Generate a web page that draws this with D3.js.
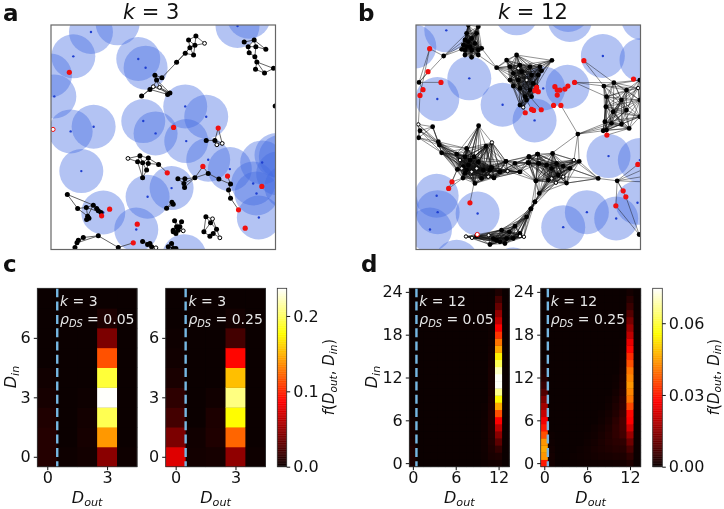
<!DOCTYPE html>
<html><head><meta charset="utf-8">
<script src="https://cdn.jsdelivr.net/npm/d3@7/dist/d3.min.js"></script>
<style>
html,body{margin:0;padding:0;background:#fff}
svg{display:block;filter:blur(.35px)}
text{font-family:"DejaVu Sans",sans-serif;fill:#111}
</style></head><body>
<svg id="fig" width="724" height="509"></svg>
<script>
// ---------- panel a: k = 3 (picture units) ----------
const aDomainX=[153,827], aDomainY=[75,748];
const aDisks=[[273,96],[353,70],[220,169],[415,177],[437,203],[150,226],[163,289],[430,363],[467,400],[556,319],[619,350],[559,423],[212,394],[281,380],[625,479],[690,507],[244,513],[443,590],[515,564],[310,637],[409,688],[553,768],[777,652],[713,78],[747,50],[787,487],[760,550],[770,580],[843,470],[835,520],[860,560],[830,465]];
const aRed=[[208,217],[521,382],[655,384],[502,518],[609,499],[683,528],[786,559],[329,627],[305,647],[412,672],[736,684],[716,629],[400,728]];
const aOpenRed=[[159,388]];
const aCluster1=[[566,120],[588,108],[614,130,1],[570,143],[585,136],[581,165],[556,160],[530,187],[486,233],[465,226],[470,240],[460,260,1],[479,262,1],[450,268],[425,288],[510,279],[503,283]];
const aLinks1=[[0,1],[1,2],[0,4],[1,4],[2,4],[0,3],[3,4],[3,5],[4,5],[3,6],[5,6],[6,7],[3,7],[7,8],[8,9],[8,10],[9,10],[10,11],[10,12],[11,12],[11,13],[13,14],[12,15],[12,16],[11,15],[13,16],[14,11],[10,15]];
const aCluster2=[[733,126],[763,120],[798,148],[745,140],[768,140],[748,158],[765,170],[771,186],[767,208],[794,219],[821,205],[838,200]];
const aLinks2=[[0,1],[1,3],[1,4],[3,4],[4,2],[1,2],[3,5],[4,6],[5,6],[6,7],[7,8],[7,9],[8,9],[7,10],[9,10],[10,11]];
const aCluster3=[[619,421],[645,421],[651,434,1],[667,430,1],[655,384]];
const aLinks3=[[0,1],[1,2],[1,3],[2,3],[4,1],[4,3]];
const aCluster4=[[384,475,1],[420,467],[445,474],[413,485],[428,488],[445,490],[476,493],[428,533],[440,510],[502,518]];
const aLinks4=[[0,1],[0,3],[1,3],[1,2],[2,4],[1,4],[3,4],[2,5],[4,5],[5,6],[2,6],[3,7],[4,7],[4,8],[5,8],[7,8],[6,9]];
const aCluster5=[[534,536],[555,536],[552,550],[554,562],[585,533],[625,520],[657,537],[692,552],[686,570],[692,594],[609,499],[683,528],[716,629]];
const aLinks5=[[0,1],[0,2],[1,2],[2,3],[1,3],[1,4],[2,4],[3,4],[4,5],[5,6],[6,7],[7,8],[8,9],[10,4],[10,5],[11,7],[12,9]];
const aCluster6=[[516,606],[520,612],[500,624]];
const aLinks6=[[0,2],[1,2],[0,1]];
const aCluster7=[[202,583],[233,625],[259,622],[280,615],[290,625],[295,632],[303,637],[263,648],[267,654],[260,658]];
const aLinks7=[[0,1],[0,3],[1,2],[1,7],[2,7],[3,4],[4,5],[5,6],[2,3],[7,8],[8,9],[3,7],[2,6]];
const aCluster8=[[295,707],[250,712],[235,720],[231,728],[225,742],[355,742],[428,724],[443,733],[450,730],[455,740],[468,743,1],[400,728]];
const aLinks8=[[0,1],[1,2],[2,3],[3,4],[0,3],[1,3],[0,5],[5,11],[6,7],[6,8],[7,9],[8,10],[9,10]];
const aCluster9=[[524,662],[545,665],[530,680],[540,680],[550,692,1],[520,695],[535,690],[528,700],[520,690]];
const aLinks9=[[0,2],[1,3],[2,3],[3,4],[2,5],[2,6],[3,6],[6,7],[5,7],[6,8],[0,3],[1,2],[6,4]];
const aCluster10=[[618,650],[638,656,1],[632,668],[650,687],[612,695],[640,700],[630,708],[660,713,1]];
const aLinks10=[[0,1],[0,2],[1,2],[0,4],[2,4],[2,3],[4,6],[3,5],[5,6],[3,7],[5,7],[1,3]];
const aCluster11=[[515,730],[505,740],[520,745],[528,745],[826,318]];
const aLinks11=[[0,1],[0,2],[0,3],[1,2]];
const aNetworks=[[aCluster1,aLinks1],[aCluster2,aLinks2],[aCluster3,aLinks3],[aCluster4,aLinks4],[aCluster5,aLinks5],[aCluster6,aLinks6],[aCluster7,aLinks7],[aCluster8,aLinks8],[aCluster9,aLinks9],[aCluster10,aLinks10],[aCluster11,aLinks11]];

// ---------- panel b: k = 12 (picture units) ----------
const bDomainX=[198,872], bDomainY=[75,748];
const bDisks=[[289,91],[500,40],[660,60],[655,30],[759,168],[875,180],[358,235],[262,297],[580,265],[653,260],[458,314],[554,361],[776,468],[870,480],[260,587],[263,636],[383,640],[240,688],[640,681],[711,636],[799,655],[863,608],[320,785],[193,140],[880,55],[490,808],[140,620]];
const bRed=[[239,146],[234,215],[273,247],[219,269],[210,286],[306,545],[296,565],[360,608],[526,338],[545,328],[551,331],[574,329],[611,316],[633,316],[555,272],[560,262],[565,275],[615,260],[622,270],[630,270],[622,285],[645,267],[654,258],[674,247],[702,182],[851,237],[771,405],[864,493],[820,572],[828,590],[798,617]];
const bOpenRed=[[382,703]];
const bGroup1=[[350,100],[380,100],[345,120],[365,115],[340,135],[355,125],[375,130],[395,145],[385,150],[345,150],[365,150],[335,148],[345,165],[365,172],[385,165],[355,75],[385,80],[360,140],[350,140]];
const bGroup2=[[500,165],[470,180],[440,203],[606,181],[480,200],[510,195],[540,200],[570,200],[575,212],[490,220],[515,215],[545,225],[480,240],[505,240],[530,240,1],[550,250],[490,258],[510,265],[540,270],[560,258,1],[525,290],[545,290],[530,300],[520,322,1],[510,315],[505,205,1],[565,225]];
const bGroup3=[[762,258],[792,248],[865,264,1],[770,290],[768,320],[790,335],[830,330],[870,300],[815,300],[765,365],[785,370],[815,372],[838,385],[760,392],[770,390],[870,350],[830,270],[870,240]];
const bGroup4=[[205,373,1],[248,380],[210,392],[206,413],[265,425],[268,435],[275,458],[386,377],[426,427,1],[408,438],[320,462],[350,445],[330,480,1],[345,470],[360,480],[372,470],[355,495],[340,500],[380,505,1],[365,515,1],[345,520],[322,508],[339,534],[375,550],[395,535],[415,530,1],[432,533],[425,503],[450,515],[473,513,1],[468,484],[510,515],[420,510],[400,510],[385,485],[350,510],[335,505,1]];
const bGroup5=[[537,470],[563,462],[608,460],[566,490],[535,488],[590,495],[620,490],[640,498],[605,505],[672,480,1],[688,484],[660,505],[625,525],[640,530,1],[605,535,1],[618,548,1],[650,549],[558,542],[595,540],[568,580],[555,605],[543,626],[745,535]];
const bGroup6=[[543,626],[555,605],[495,678],[510,700],[522,710,1],[510,708,1],[490,715],[470,715],[450,725],[440,720],[420,733],[416,705,1],[380,707],[348,709,1],[366,713,1],[430,715],[465,730],[455,690],[478,695],[530,650]];
const bGroup7=[[425,503],[432,533],[450,515],[473,513,1],[468,484],[495,490],[510,515],[537,470],[535,488],[563,462],[566,490],[558,542]];
const bSingles=[[281,168],[207,247],[684,402],[802,542],[868,703]];
const bGroups=[[bGroup1,90],[bGroup2,90],[bGroup3,110],[bGroup4,108],[bGroup5,110],[bGroup6,130],[bGroup7,100]];
const bBridges=[[239,146,207,247],[239,146,281,168],[239,146,210,286],[281,168,207,247],[281,168,345,120],[281,168,340,135],[281,168,350,100],[281,168,335,148],[207,247,273,247],[207,247,234,215],[219,269,207,247],[210,286,205,373],[395,145,440,203],[385,165,440,203],[606,181,570,200],[606,181,540,200],[606,181,565,225],[606,181,500,165],[606,181,480,200],[526,338,520,322],[545,328,530,300],[574,329,540,290],[555,272,530,240],[633,316,684,402],[702,182,762,258],[702,182,792,248],[674,247,762,258],[674,247,792,248],[674,247,770,290],[684,402,605,460],[684,402,672,480],[684,402,688,484],[684,402,765,370],[684,402,760,392],[684,402,785,370],[684,402,815,372],[771,405,765,365],[771,405,838,385],[864,493,802,542],[875,510,802,542],[875,530,802,542],[875,545,802,542],[820,572,802,542],[828,590,802,542],[798,617,802,542],[798,617,868,703],[828,590,868,703],[745,535,802,542],[360,608,372,550],[306,545,339,534],[296,565,322,508],[306,545,322,508],[296,565,339,534],[386,377,330,480],[386,377,345,470],[386,377,355,495],[386,377,372,470],[386,377,385,485],[386,377,400,510],[386,377,360,480],[426,427,385,485],[426,427,400,510],[426,427,420,510],[426,427,450,515],[426,427,468,484],[408,438,425,503],[408,438,380,505],[660,505,745,535],[650,549,745,535]];

// ---------- heat maps: value f(Dout,Din), columns of Dout, listed from Din = 0 upward ----------
const cRowCount=9, cColCount=5;
const cLeftColumns={0:[.009,.009,.007,.004,.002],1:[.001],2:[.003,.004,.003,.001],3:[.045,.14,.196,.236,.19,.115,.04,.006,0],4:[.001]};
const cRightColumns={0:[.075,.04,.02,.012,.005,.002,.001],1:[.003,.002],2:[.004,.007,.006,.002],3:[.047,.122,.176,.207,.154,.088,.02,.003,0],4:[.001]};
const dRowCount=25, dColCount=14;
const dLeftColumns={0:[.002,.002,.002,.0015,.001,.001,.0007],
 10:[.0003,.0005,.0006,.0006,.0006,.0005,.0004,.0003,.0002],
 11:[.0008,.0016,.002,.0024,.0026,.0026,.0025,.0024,.002,.0018,.0016,.0015,.0015,.0014,.0012,.001,.0008,.0006,.0005,.0004,.0003],
 12:[.001,.002,.0045,.009,.014,.02,.027,.036,.046,.055,.066,.074,.074,.07,.062,.054,.046,.04,.033,.027,.02,.015,.01,.006,.002]};
const dRightColumns={0:[.03,.044,.046,.044,.036,.03,.026,.021,.017,.013,.008,.005,.003,.002,.001],
 1:[.001,.001,.0008,.0005,.0003],
 4:[.0002,.0002],5:[.0003,.0004,.0003],6:[.0004,.0007,.0007,.0005,.0002],7:[.0005,.001,.0013,.001,.0007,.0004],
 8:[.0006,.0013,.0018,.0018,.0014,.001,.0006,.0003],9:[.0006,.0015,.0022,.0027,.0025,.002,.0015,.001,.0006,.0003],
 10:[.0008,.0018,.0028,.0035,.004,.004,.0035,.0025,.002,.0014,.0009,.0005,.0003],
 11:[.001,.002,.003,.004,.006,.0065,.0065,.0055,.0045,.004,.003,.0025,.002,.0015,.001,.0007,.0005,.0003],
 12:[.002,.004,.007,.011,.016,.022,.027,.028,.035,.04,.042,.044,.042,.04,.036,.032,.028,.025,.02,.016,.012,.008,.005,.003,.001]};
const cTicksX=[0,3], cTicksY=[0,3,6];
const dTicksX=[0,6,12], dTicksY=[0,6,12,18,24];
const cScaleMax=.2367, dScaleMax=.0746;
const cBarTicks=[0,.1,.2], dBarTicks=[0,.03,.06];

// ---------- drawing ----------
const svg=d3.select("#fig");
const DISK="#4169e1", DOT="#1f3fd0", RED="#f01010";
// matplotlib "hot" colour map
const hotT=[0,.365,.746,1];
const hot=d3.scaleLinear().domain(hotT).range(["#0b0000","#ff0000","#ffff00","#ffffff"]);

function panel(id,left,top,size,dx,dy){
  const g=svg.append("g");
  g.append("clipPath").attr("id",id).append("rect").attr("x",left).attr("y",top).attr("width",size).attr("height",size);
  const body=g.append("g").attr("clip-path",`url(#${id})`);
  const x=d3.scaleLinear().domain(dx).range([left,left+size]);
  const y=d3.scaleLinear().domain(dy).range([top,top+size]);
  return {g,body,x,y,left,top,size};
}
function drawDisks(p,disks){
  p.body.selectAll("circle.d").data(disks).join("circle").attr("class","d")
   .attr("cx",d=>p.x(d[0])).attr("cy",d=>p.y(d[1])).attr("r",22).attr("fill",DISK).attr("fill-opacity",.4);
  p.body.selectAll("circle.c").data(disks).join("circle").attr("class","c")
   .attr("cx",d=>p.x(d[0])).attr("cy",d=>p.y(d[1])).attr("r",1.2).attr("fill",DOT);
}
function drawEdges(p,edges,color,width,op){
  p.body.append("g").selectAll("line").data(edges).join("line")
   .attr("x1",d=>p.x(d[0])).attr("y1",d=>p.y(d[1])).attr("x2",d=>p.x(d[2])).attr("y2",d=>p.y(d[3]))
   .attr("stroke",color).attr("stroke-width",width).attr("stroke-opacity",op);
}
function drawNodes(p,nodes,rb,rw){
  p.body.append("g").selectAll("circle").data(nodes).join("circle")
   .attr("cx",d=>p.x(d[0])).attr("cy",d=>p.y(d[1]))
   .attr("r",d=>d[2]?rw:rb).attr("fill",d=>d[2]?"#fff":"#000")
   .attr("stroke","#000").attr("stroke-width",d=>d[2]?1:0);
}
function drawReds(p,reds,open,r){
  p.body.append("g").selectAll("circle").data(reds).join("circle")
   .attr("cx",d=>p.x(d[0])).attr("cy",d=>p.y(d[1])).attr("r",r).attr("fill",RED);
  p.body.append("g").selectAll("circle").data(open).join("circle")
   .attr("cx",d=>p.x(d[0])).attr("cy",d=>p.y(d[1])).attr("r",r-.5).attr("fill","#fff").attr("stroke",RED).attr("stroke-width",1);
}
function frame(p){
  p.g.append("rect").attr("x",p.left).attr("y",p.top).attr("width",p.size).attr("height",p.size)
   .attr("fill","none").attr("stroke","#666").attr("stroke-width",1.2);
}

// panel a
const pa=panel("clipA",51,25,224.5,aDomainX,aDomainY);
drawDisks(pa,aDisks);
const aEdges=aNetworks.flatMap(([n,l])=>l.map(([i,j])=>[n[i][0],n[i][1],n[j][0],n[j][1]]));
drawEdges(pa,aEdges,"#333",.9,.85);
const aBlack=aNetworks.flatMap(([n],k)=>n.filter(q=>!aRed.some(r=>r[0]===q[0]&&r[1]===q[1])));
drawNodes(pa,aBlack,2.5,1.9);
drawReds(pa,aRed,aOpenRed,2.6);
frame(pa);

// panel b
const pb=panel("clipB",416,25,224.5,bDomainX,bDomainY);
drawDisks(pb,bDisks);
const bEdges=bGroups.flatMap(([n,reach])=>{
  const out=[];
  n.forEach((a,i)=>n.forEach((b,j)=>{ if(j>i&&Math.hypot(a[0]-b[0],a[1]-b[1])<reach) out.push([a[0],a[1],b[0],b[1]]); }));
  return out;
}).concat(bBridges);
drawEdges(pb,bEdges,"#111",.7,.65);
drawNodes(pb,bGroups.flatMap(d=>d[0]).concat(bSingles),2.4,1.7);
drawReds(pb,bRed,bOpenRed,2.6);
frame(pb);

// titles and panel letters
function title(x,y,parts,size,anchor,color,rotate){
  const t=svg.append("text").attr("x",x).attr("y",y).attr("font-size",size).attr("text-anchor",anchor||"start");
  if(color) t.style("fill",color);
  if(rotate) t.attr("transform",`rotate(-90 ${x} ${y})`);
  let shift=0;
  parts.forEach(([s,kind])=>{
    const ts=t.append("tspan").text(s);
    if(kind==="i"||kind==="si") ts.attr("font-style","italic");
    const want=(kind==="s"||kind==="si")?size*.18:0;
    if(want!==shift){ ts.attr("dy",want-shift); shift=want; }
    if(kind==="s"||kind==="si") ts.attr("font-size",size*.7);
  });
  return t;
}
title(123,18.5,[["k","i"],[" = 3"]],21);
title(498,18.5,[["k","i"],[" = 12"]],21);
[["a",3,21],["b",358,21],["c",3,272],["d",361,272]].forEach(([s,x,y])=>{
  svg.append("text").attr("x",x).attr("y",y).attr("font-size",23).attr("font-weight","bold").text(s);
});

// heat maps
function heat(left,top,w,h,cols,nCols,nRows,vmax,tx,ty,kLabel,rhoLabel,inner){
  const g=svg.append("g");
  const x=d3.scaleLinear().domain([-.5,nCols-.5]).range([left,left+w]);
  const y=d3.scaleLinear().domain([-.5,nRows-.5]).range([top+h,top]);
  const cells=[];
  d3.range(nCols).forEach(c=>d3.range(nRows).forEach(r=>{
    const v=(cols[c]&&cols[c][r])||0; cells.push({c,r,v});
  }));
  g.append("rect").attr("x",left).attr("y",top).attr("width",w).attr("height",h).attr("fill","#0b0000");
  g.selectAll("rect.cell").data(cells).join("rect").attr("class","cell")
   .attr("x",d=>x(d.c-.5)).attr("y",d=>y(d.r+.5))
   .attr("width",x(1)-x(0)+.4).attr("height",y(0)-y(1)+.4)
   .attr("fill",d=>hot(d.v/vmax));
  g.append("line").attr("x1",x(.5)).attr("x2",x(.5)).attr("y1",top).attr("y2",top+h)
   .attr("stroke","#76b7e2").attr("stroke-width",2.4).attr("stroke-dasharray","9,4.3");
  g.append("rect").attr("x",left).attr("y",top).attr("width",w).attr("height",h).attr("fill","none").attr("stroke","#333").attr("stroke-width",.8);
  const ax=g.append("g").attr("transform",`translate(0,${top+h})`).call(d3.axisBottom(x).tickValues(tx).tickSize(3.5).tickPadding(1.5).tickFormat(d3.format("d")));
  const ay=g.append("g").attr("transform",`translate(${left},0)`).call(d3.axisLeft(y).tickValues(ty).tickSize(3.5).tickPadding(3).tickFormat(d3.format("d")));
  [ax,ay].forEach(a=>{a.select(".domain").remove();a.selectAll("text").attr("font-size",16).attr("font-family",'"DejaVu Sans"').style("fill","#111");a.selectAll("line").attr("stroke","#111");});
  title(left+inner,306,[["k","i"],[" = "+kLabel]],14,"start","#e6e6e6");
  title(left+inner,324,[["\u03C1","i"],["DS","si"],[" = "+rhoLabel]],14,"start","#e6e6e6");
  title(left+w/2,503,[["D","i"],["out","si"]],16,"middle");
}
function colorbar(left,top,w,h,vmax,ticks,fmt,labelX){
  const g=svg.append("g");
  const y=d3.scaleLinear().domain([0,vmax]).range([top+h,top]);
  const steps=d3.range(0,256).map(i=>i/256*vmax);
  g.selectAll("rect").data(steps).join("rect").attr("x",left).attr("width",w)
   .attr("y",d=>y(d+vmax/256)).attr("height",h/256+.4).attr("fill",d=>hot(d/vmax));
  g.append("rect").attr("x",left).attr("y",top).attr("width",w).attr("height",h).attr("fill","none").attr("stroke","#333").attr("stroke-width",.8);
  const a=g.append("g").attr("transform",`translate(${left+w},0)`).call(d3.axisRight(y).tickValues(ticks).tickSize(3.5).tickPadding(3).tickFormat(d3.format(fmt)));
  a.select(".domain").remove();a.selectAll("text").attr("font-size",16).attr("font-family",'"DejaVu Sans"').style("fill","#111");a.selectAll("line").attr("stroke","#111");
  title(labelX,377,[["f","i"],["("],["D","i"],["out","si"],[", "],["D","i"],["in","si"],[")"]],15,"middle",null,true);
}
heat(37.3,288.3,99.7,178.4,cLeftColumns,cColCount,cRowCount,cScaleMax,cTicksX,cTicksY,"3","0.05",22.7);
heat(165.7,288.3,99.7,178.4,cRightColumns,cColCount,cRowCount,cScaleMax,cTicksX,cTicksY,"3","0.25",22.7);
heat(409.3,288.3,100,178.4,dLeftColumns,dColCount,dRowCount,dScaleMax,dTicksX,dTicksY,"12","0.05",10);
heat(540.7,288.3,100,178.4,dRightColumns,dColCount,dRowCount,dScaleMax,dTicksX,dTicksY,"12","0.25",10);
colorbar(277.3,288.3,9.4,178.4,cScaleMax,cBarTicks,".1f",334);
colorbar(652.7,288.3,9.6,178.4,dScaleMax,dBarTicks,".2f",718.5);
title(16,377,[["D","i"],["in","si"]],16,"middle",null,true);
title(377,377,[["D","i"],["in","si"]],16,"middle",null,true);
</script>
</body></html>
